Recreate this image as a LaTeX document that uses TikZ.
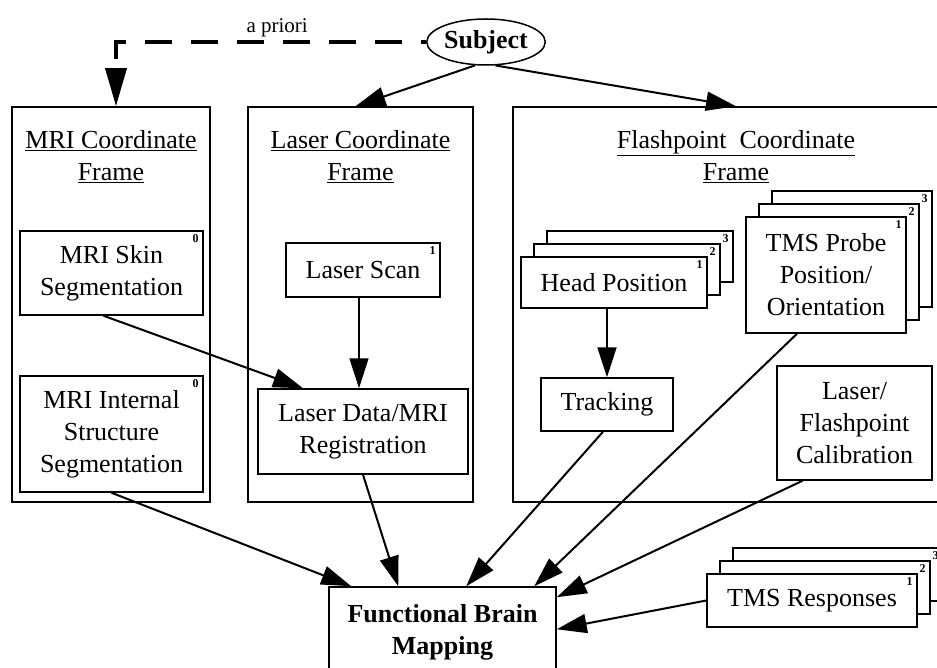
\documentclass[tikz,border=0pt]{standalone}
\usepackage{fontspec}
\setmainfont{Liberation Serif}
\usetikzlibrary{shapes.geometric, arrows.meta, positioning, calc}

\begin{document}
\begin{tikzpicture}[
    x=1pt, y=-1pt,
    every node/.style={font=\fontsize{26}{32}\selectfont, align=center},
    framebox/.style={draw, line width=1.5pt, minimum height=395pt, inner sep=0pt},
    frametitle/.style={anchor=north, inner sep=0pt},
    card/.style={draw, fill=white, line width=1.5pt, inner sep=2pt},
    idx/.style={anchor=north east, inner xsep=5pt, inner ysep=4pt, font=\fontsize{12}{12}\selectfont\bfseries},
    arr/.style={-{Triangle[length=30pt, width=19pt]}, line width=2pt}
]
\useasboundingbox (0,0) rectangle (937,668);
\clip (0,0) rectangle (937,668);

% Subject
\node[ellipse, draw, line width=1.5pt, minimum width=118pt, minimum height=46pt, inner sep=0pt,
      font=\fontsize{26}{32}\selectfont\bfseries] (subject) at (486,42) {Subject};

% Coordinate frames
\node[framebox, minimum width=198pt] (mriframe) at (111,304.5) {};
\node[framebox, minimum width=225pt] (laserframe) at (360.5,304.5) {};
\node[framebox, minimum width=446pt] (flashframe) at (736,304.5) {};
\node[frametitle] (mrititle) at (111,130) {\underline{MRI Coordinate}\\\underline{Frame}};
\node[frametitle] (lasertitle) at (360.5,130) {\underline{Laser Coordinate}\\\underline{Frame}};
\node[frametitle] (flashtitle) at (736,130) {\underline{Flashpoint\ \ Coordinate}\\\underline{Frame}};

% MRI frame
\node[card, minimum width=183pt, minimum height=84pt] (skin) at (111.5,273) {MRI Skin\\Segmentation};
\node[idx] (skinidx) at (skin.north east) {0};
\node[card, minimum width=183pt, minimum height=116pt] (mriint) at (111.5,434) {MRI Internal\\Structure\\Segmentation};
\node[idx] (mriintidx) at (mriint.north east) {0};

% Laser frame
\node[card, minimum width=154pt, minimum height=54pt] (lscan) at (363,270) {Laser Scan};
\node[idx] (lscanidx) at (lscan.north east) {1};
\node[card, minimum width=210pt, minimum height=85pt] (lreg) at (363,431.5) {Laser Data/MRI\\Registration};

% Flashpoint frame (stacked cards)
\foreach \k in {3,2} {
  \node[card, minimum width=186pt, minimum height=51pt] (head\k) at ({614+13*(\k-1)},{282.5-13*(\k-1)}) {};
  \node[idx] (headidx\k) at (head\k.north east) {\k};
  \node[card, minimum width=160pt, minimum height=116pt] (probe\k) at ({826+13*(\k-1)},{275-13*(\k-1)}) {};
  \node[idx] (probeidx\k) at (probe\k.north east) {\k};
  \node[card, minimum width=210pt, minimum height=53pt] (resp\k) at ({812+13*(\k-1)},{600.5-13*(\k-1)}) {};
  \node[idx] (respidx\k) at (resp\k.north east) {\k};
}
\node[card, minimum width=186pt, minimum height=51pt] (head) at (614,282.5) {Head Position};
\node[idx] (headidx) at (head.north east) {1};
\node[card, minimum width=160pt, minimum height=116pt] (probe) at (826,275) {TMS Probe\\Position/\\Orientation};
\node[idx] (probeidx) at (probe.north east) {1};
\node[card, minimum width=132pt, minimum height=53pt] (track) at (607,404.5) {Tracking};
\node[card, minimum width=155pt, minimum height=114pt] (calib) at (854.5,423) {Laser/\\Flashpoint\\Calibration};

% Responses and mapping
\node[card, minimum width=210pt, minimum height=53pt] (resp) at (812,600.5) {TMS Responses};
\node[idx] (respidx) at (resp.north east) {1};
\node[card, minimum width=227pt, minimum height=91pt, font=\fontsize{26}{32}\selectfont\bfseries] (fbm) at (442.5,632.5) {Functional Brain\\Mapping};

% Arrows from the subject
\draw[arr, line width=3.5pt, dash pattern=on 27pt off 19pt, dash phase=22pt, -{Triangle[length=38pt, width=21pt]}]
    (subject.west) -| ([xshift=5pt]mriframe.north)
    node[pos=0.24, above, font=\fontsize{21}{24}\selectfont] (apriori) {a priori};
\draw[arr] (subject.245) -- ([xshift=-5pt]laserframe.north);
\draw[arr] (subject.292) -- (flashframe.north);

% Arrows inside the frames
\draw[arr] ([xshift=-8pt]skin.south) -- ([xshift=-60pt]lreg.north);
\draw[arr, line width=1.5pt] ([xshift=-4pt]lscan.south) -- ([xshift=-4pt]lreg.north);
\draw[arr] (head.south -| track.north) -- (track.north);

% Arrows into the mapping
\draw[arr] (mriint.south) -- ([xshift=23pt]fbm.north west);
\draw[arr] (lreg.south) -- ([xshift=70pt]fbm.north west);
\draw[arr] ([xshift=-4pt]track.south) -- ([xshift=138pt]fbm.north west);
\draw[arr] ([xshift=-29pt]probe.south) -- ([xshift=206pt]fbm.north west);
\draw[arr] ([xshift=-52pt]calib.south) -- ([yshift=-11pt]fbm.north east);
\draw[arr] (resp.west) -- ([yshift=-43pt]fbm.north east);

\end{tikzpicture}
\end{document}
